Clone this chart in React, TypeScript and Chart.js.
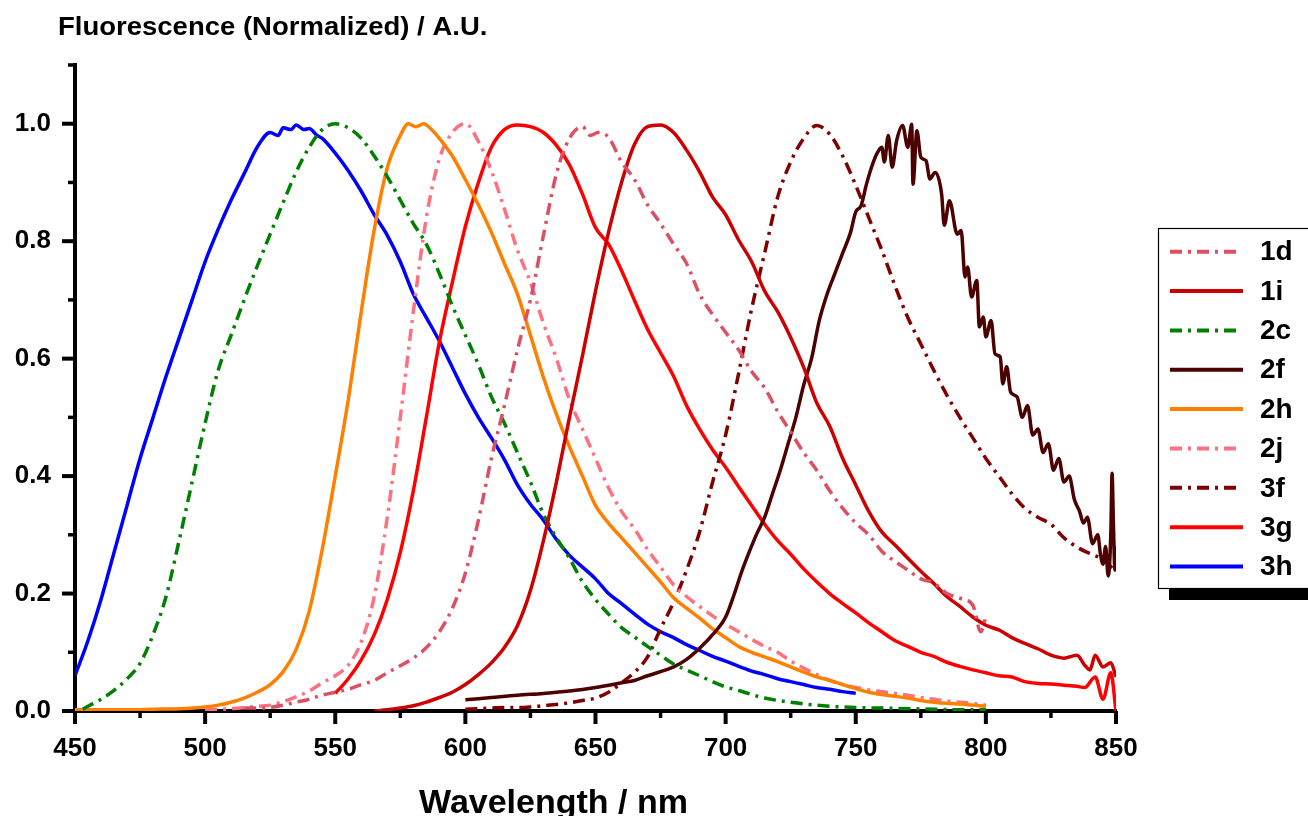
import { useEffect, useRef } from 'react';
import { Chart, registerables } from 'chart.js';

Chart.register(...registerables);

// ---------- axis ticks ----------
const xMajorTicks = [450, 500, 550, 600, 650, 700, 750, 800, 850];
const xMinorTicks = [475, 525, 575, 625, 675, 725, 775, 825];
const yMajorTicks = [0, 0.2, 0.4, 0.6, 0.8, 1.0];
const yMinorTicks = [0.1, 0.3, 0.5, 0.7, 0.9, 1.1];

// ---------- series (wavelength nm, normalized fluorescence) ----------
const s1d: [number, number][] = [
  [515, 0.005], [520, 0.005], [525, 0.006], [530, 0.01], [535, 0.015], [540, 0.02], [545, 0.027],
  [550, 0.032], [555, 0.037], [560, 0.045], [565, 0.052], [570, 0.065], [575, 0.077], [580, 0.09],
  [585, 0.108], [590, 0.135], [595, 0.175], [600, 0.235], [605, 0.325], [610, 0.43], [615, 0.52],
  [620, 0.615], [625, 0.7], [630, 0.81], [635, 0.915], [640, 0.975], [645, 0.995], [648, 0.98],
  [651, 0.985], [655, 0.977], [660, 0.935], [665, 0.905], [670, 0.862], [675, 0.83], [680, 0.795],
  [685, 0.762], [690, 0.71], [695, 0.675], [700, 0.645], [705, 0.615], [710, 0.578], [715, 0.55],
  [720, 0.51], [725, 0.475], [730, 0.44], [735, 0.41], [740, 0.375], [745, 0.345], [750, 0.32],
  [755, 0.3], [760, 0.272], [765, 0.255], [770, 0.24], [775, 0.225], [780, 0.218], [785, 0.2],
  [790, 0.192], [795, 0.18], [798, 0.135], [800, 0.16],
];
const s1i: [number, number][] = [
  [565, 0.0], [570, 0.002], [575, 0.005], [580, 0.009], [585, 0.015], [590, 0.023], [595, 0.032],
  [600, 0.045], [605, 0.062], [610, 0.082], [615, 0.108], [620, 0.145], [625, 0.205], [630, 0.29],
  [635, 0.39], [640, 0.5], [645, 0.605], [650, 0.715], [655, 0.815], [660, 0.9], [665, 0.965],
  [670, 0.995], [675, 0.998], [680, 0.985], [685, 0.955], [690, 0.918], [695, 0.875], [700, 0.845],
  [705, 0.802], [710, 0.765], [715, 0.715], [720, 0.68], [725, 0.636], [730, 0.585], [735, 0.525],
  [740, 0.485], [745, 0.43], [750, 0.385], [755, 0.34], [760, 0.305], [765, 0.283], [770, 0.26],
  [775, 0.238], [780, 0.217], [785, 0.195], [790, 0.178], [795, 0.16], [800, 0.146], [805, 0.138],
  [810, 0.125], [815, 0.115], [820, 0.106], [825, 0.095], [830, 0.09], [835, 0.095], [838, 0.078],
  [840, 0.07], [842, 0.095], [845, 0.075], [848, 0.082], [850, 0.058],
];
const s2c: [number, number][] = [
  [453, 0.003], [455, 0.008], [460, 0.02], [465, 0.035], [470, 0.055], [475, 0.081], [480, 0.13],
  [485, 0.195], [490, 0.29], [495, 0.39], [500, 0.49], [505, 0.58], [510, 0.64], [515, 0.7],
  [520, 0.757], [525, 0.812], [530, 0.866], [535, 0.918], [540, 0.96], [545, 0.99], [550, 1.0],
  [555, 0.993], [560, 0.975], [565, 0.945], [570, 0.91], [575, 0.87], [580, 0.83], [585, 0.795],
  [590, 0.745], [595, 0.69], [600, 0.64], [605, 0.59], [610, 0.535], [615, 0.49], [620, 0.44],
  [625, 0.39], [630, 0.335], [635, 0.295], [640, 0.26], [645, 0.22], [650, 0.19], [655, 0.165],
  [660, 0.142], [665, 0.126], [670, 0.11], [675, 0.095], [680, 0.08], [685, 0.07], [690, 0.06],
  [695, 0.05], [700, 0.041], [705, 0.035], [710, 0.028], [715, 0.022], [720, 0.018], [725, 0.015],
  [730, 0.012], [740, 0.008], [750, 0.006], [760, 0.005], [770, 0.004], [780, 0.003], [790, 0.002],
  [800, 0.002],
];
const s2f: [number, number][] = [
  [600, 0.019], [610, 0.023], [620, 0.027], [630, 0.03], [640, 0.034], [650, 0.04], [660, 0.048],
  [665, 0.052], [670, 0.06], [675, 0.067], [680, 0.075], [685, 0.088], [690, 0.107], [695, 0.13],
  [700, 0.16], [703, 0.195], [706, 0.235], [709, 0.27], [712, 0.302], [715, 0.33], [718, 0.37],
  [721, 0.41], [724, 0.455], [727, 0.5], [730, 0.555], [733, 0.6], [736, 0.665], [739, 0.71],
  [742, 0.745], [745, 0.78], [748, 0.815], [750, 0.85], [752, 0.86], [754, 0.895], [756, 0.925],
  [758, 0.948], [760, 0.96], [761, 0.935], [762.5, 0.98], [764, 0.926], [765.7, 0.971],
  [768, 0.997], [770, 0.96], [771.5, 0.999], [772, 0.897], [773.5, 0.988], [775, 0.943],
  [777, 0.937], [778.5, 0.906], [780.5, 0.917], [783, 0.88], [784, 0.827], [786, 0.869],
  [789, 0.812], [790.5, 0.818], [792, 0.739], [793, 0.756], [794.5, 0.705], [796.5, 0.733],
  [797.5, 0.654], [799, 0.671], [800, 0.637], [802, 0.665], [803.5, 0.608], [805.5, 0.603],
  [806.5, 0.557], [808, 0.586], [809.5, 0.543], [812, 0.535], [814, 0.5], [816, 0.52], [818, 0.47],
  [820, 0.48], [822, 0.44], [824, 0.455], [826, 0.41], [828, 0.43], [830, 0.39], [832, 0.4],
  [834, 0.36], [836, 0.34], [837.5, 0.32], [839, 0.33], [841, 0.285], [843, 0.3], [844, 0.268],
  [845, 0.25], [846, 0.28], [847, 0.23], [848, 0.3], [848.5, 0.405], [849, 0.32], [849.6, 0.24],
  [850, 0.28],
];
const s2h: [number, number][] = [
  [450, 0.002], [460, 0.002], [470, 0.002], [480, 0.003], [490, 0.004], [500, 0.007], [505, 0.01],
  [510, 0.015], [515, 0.022], [520, 0.032], [525, 0.045], [530, 0.067], [535, 0.105], [540, 0.17],
  [545, 0.275], [550, 0.4], [555, 0.53], [560, 0.68], [565, 0.82], [570, 0.925], [575, 0.98],
  [578, 1.0], [581, 0.995], [584, 1.0], [587, 0.99], [590, 0.975], [595, 0.945], [600, 0.905],
  [605, 0.862], [610, 0.815], [615, 0.762], [620, 0.71], [625, 0.64], [630, 0.568], [635, 0.505],
  [640, 0.45], [645, 0.4], [650, 0.35], [655, 0.32], [660, 0.295], [665, 0.27], [670, 0.245],
  [675, 0.22], [680, 0.193], [685, 0.175], [690, 0.158], [695, 0.14], [700, 0.125], [705, 0.11],
  [710, 0.1], [715, 0.092], [720, 0.084], [725, 0.075], [730, 0.066], [735, 0.058], [740, 0.052],
  [745, 0.045], [750, 0.038], [755, 0.032], [760, 0.028], [765, 0.025], [770, 0.022], [775, 0.018],
  [780, 0.015], [785, 0.013], [790, 0.012], [795, 0.01], [800, 0.008],
];
const s2j: [number, number][] = [
  [500, 0.002], [505, 0.003], [510, 0.004], [515, 0.006], [520, 0.008], [525, 0.01], [530, 0.016],
  [535, 0.024], [540, 0.034], [545, 0.048], [550, 0.06], [555, 0.078], [560, 0.118], [565, 0.195],
  [570, 0.33], [575, 0.5], [580, 0.68], [585, 0.84], [590, 0.94], [595, 0.985], [600, 1.0],
  [605, 0.97], [610, 0.92], [615, 0.855], [620, 0.785], [625, 0.73], [630, 0.66], [635, 0.6],
  [640, 0.53], [645, 0.48], [650, 0.43], [655, 0.38], [660, 0.34], [665, 0.31], [670, 0.275],
  [675, 0.245], [680, 0.215], [685, 0.195], [690, 0.178], [695, 0.162], [700, 0.148], [705, 0.135],
  [710, 0.122], [715, 0.11], [720, 0.1], [725, 0.085], [730, 0.073], [735, 0.062], [740, 0.052],
  [745, 0.045], [750, 0.04], [755, 0.036], [760, 0.033], [765, 0.03], [770, 0.027], [775, 0.023],
  [780, 0.02], [785, 0.017], [790, 0.015], [795, 0.013], [800, 0.01],
];
const s3f: [number, number][] = [
  [600, 0.003], [605, 0.004], [610, 0.005], [615, 0.006], [620, 0.006], [625, 0.007], [630, 0.009],
  [635, 0.011], [640, 0.014], [645, 0.018], [650, 0.022], [655, 0.032], [660, 0.048], [665, 0.066],
  [670, 0.092], [675, 0.14], [680, 0.185], [685, 0.24], [690, 0.305], [695, 0.39], [700, 0.47],
  [705, 0.575], [710, 0.685], [715, 0.78], [720, 0.875], [725, 0.935], [730, 0.975], [735, 0.997],
  [740, 0.982], [745, 0.945], [750, 0.895], [755, 0.84], [760, 0.785], [765, 0.725], [770, 0.67],
  [775, 0.625], [780, 0.58], [785, 0.538], [790, 0.5], [795, 0.465], [800, 0.43], [805, 0.4],
  [810, 0.37], [815, 0.345], [820, 0.33], [825, 0.318], [830, 0.295], [835, 0.279], [840, 0.268],
  [845, 0.258], [850, 0.237],
];
const s3g: [number, number][] = [
  [550, 0.03], [555, 0.055], [560, 0.087], [565, 0.13], [570, 0.19], [575, 0.27], [580, 0.375],
  [585, 0.5], [590, 0.628], [595, 0.73], [600, 0.825], [605, 0.9], [610, 0.96], [615, 0.99],
  [620, 0.998], [625, 0.995], [630, 0.985], [635, 0.963], [640, 0.93], [645, 0.88], [650, 0.823],
  [655, 0.795], [660, 0.75], [665, 0.699], [670, 0.65], [675, 0.61], [680, 0.57], [685, 0.52],
  [690, 0.48], [695, 0.445], [700, 0.415], [705, 0.382], [710, 0.35], [715, 0.318], [720, 0.29],
  [725, 0.267], [730, 0.242], [735, 0.22], [740, 0.2], [745, 0.183], [750, 0.167], [755, 0.15],
  [760, 0.135], [765, 0.12], [770, 0.11], [775, 0.1], [780, 0.093], [785, 0.083], [790, 0.076],
  [795, 0.07], [800, 0.065], [805, 0.06], [810, 0.058], [815, 0.05], [820, 0.047], [825, 0.046],
  [830, 0.044], [835, 0.042], [838, 0.04], [842, 0.058], [845, 0.02], [848, 0.065], [850, 0.0],
];
const s3h: [number, number][] = [
  [450, 0.06], [455, 0.12], [460, 0.19], [465, 0.27], [470, 0.35], [475, 0.43], [480, 0.5],
  [485, 0.57], [490, 0.635], [495, 0.7], [500, 0.765], [505, 0.82], [510, 0.87], [515, 0.915],
  [520, 0.96], [525, 0.985], [528, 0.98], [530, 0.993], [533, 0.99], [535, 0.998], [538, 0.99],
  [540, 0.992], [543, 0.98], [545, 0.975], [550, 0.95], [555, 0.92], [560, 0.885], [565, 0.845],
  [570, 0.81], [575, 0.765], [580, 0.71], [585, 0.67], [590, 0.63], [595, 0.585], [600, 0.54],
  [605, 0.5], [610, 0.465], [615, 0.428], [620, 0.385], [625, 0.352], [630, 0.325], [635, 0.292],
  [640, 0.265], [645, 0.245], [650, 0.225], [655, 0.2], [660, 0.183], [665, 0.165], [670, 0.148],
  [675, 0.135], [680, 0.125], [685, 0.113], [690, 0.103], [695, 0.093], [700, 0.085], [705, 0.076],
  [710, 0.068], [715, 0.062], [720, 0.055], [725, 0.05], [730, 0.045], [735, 0.04], [740, 0.037],
  [745, 0.033], [750, 0.03],
];

const seriesLabels = ['1d', '1i', '2c', '2f', '2h', '2j', '3f', '3g', '3h'];
const seriesData = [s1d, s1i, s2c, s2f, s2h, s2j, s3f, s3g, s3h];
const seriesColors = ['#DC5064', '#CC0000', '#008000', '#4D0000', '#FF8000', '#FF7080', '#800000', '#FF0000', '#0000FF'];
const seriesDashed = [true, false, true, false, false, true, true, false, false];
const dashDot = [12, 6, 3, 6];

const FONT = '"Liberation Sans", Arial, Helvetica, sans-serif';

const overlayPlugin = {
  id: 'overlay',
  afterDraw(chart: any) {
    const { ctx, chartArea } = chart;
    const xs = chart.scales.x;
    const ys = chart.scales.y;
    const bottom = chartArea.bottom;
    const left = chartArea.left;
    ctx.save();
    ctx.strokeStyle = '#000';
    ctx.lineCap = 'butt';
    // x ticks
    ctx.lineWidth = 4;
    xMajorTicks.forEach((v) => {
      const px = xs.getPixelForValue(v);
      ctx.beginPath(); ctx.moveTo(px, bottom); ctx.lineTo(px, bottom + 13); ctx.stroke();
    });
    ctx.lineWidth = 3.5;
    xMinorTicks.forEach((v) => {
      const px = xs.getPixelForValue(v);
      ctx.beginPath(); ctx.moveTo(px, bottom); ctx.lineTo(px, bottom + 7); ctx.stroke();
    });
    // y ticks
    ctx.lineWidth = 4;
    yMajorTicks.forEach((v) => {
      const py = ys.getPixelForValue(v);
      ctx.beginPath(); ctx.moveTo(left, py); ctx.lineTo(left - 13, py); ctx.stroke();
    });
    ctx.lineWidth = 3.5;
    yMinorTicks.forEach((v) => {
      const py = ys.getPixelForValue(v);
      ctx.beginPath(); ctx.moveTo(left, py); ctx.lineTo(left - 7, py); ctx.stroke();
    });

    // titles
    ctx.fillStyle = '#000';
    ctx.textBaseline = 'alphabetic';
    ctx.textAlign = 'left';
    ctx.save();
    ctx.translate(58, 35);
    ctx.scale(1.1, 1);
    ctx.font = `bold 25px ${FONT}`;
    ctx.fillText('Fluorescence (Normalized) / A.U.', 0, 0);
    ctx.restore();

    ctx.textAlign = 'center';
    ctx.font = `bold 34px ${FONT}`;
    ctx.fillText('Wavelength / nm', (chartArea.left + chartArea.right) / 2 - 42, 813);

    // legend
    const bx = 1158, by = 228, bh = 360;
    ctx.fillStyle = '#000';
    ctx.fillRect(1169, by + bh, 200, 12);
    ctx.fillStyle = '#fff';
    ctx.fillRect(bx, by, 200, bh);
    ctx.lineWidth = 1.2;
    ctx.strokeStyle = '#000';
    ctx.strokeRect(bx + 0.5, by + 0.5, 200, bh);
    ctx.font = `bold 28px ${FONT}`;
    ctx.textAlign = 'left';
    ctx.textBaseline = 'middle';
    chart.data.datasets.forEach((ds: any, i: number) => {
      const ly = 251.7 + i * 39.35;
      ctx.strokeStyle = ds.borderColor;
      ctx.lineWidth = 4;
      ctx.setLineDash(ds.borderDash || []);
      ctx.beginPath();
      ctx.moveTo(1170, ly);
      ctx.lineTo(ds.borderDash && ds.borderDash.length ? 1240 : 1243, ly);
      ctx.stroke();
      ctx.setLineDash([]);
      ctx.fillStyle = '#000';
      ctx.fillText(ds.label, 1260, ly + 1);
    });
    ctx.restore();
  },
};

export default function App() {
  const canvasRef = useRef<HTMLCanvasElement | null>(null);

  useEffect(() => {
    if (!canvasRef.current) return;
    const datasets = seriesLabels.map((label, i) => ({
      label,
      data: seriesData[i].map(([x, y]) => ({ x, y })),
      borderColor: seriesColors[i],
      backgroundColor: seriesColors[i],
      borderWidth: 3.5,
      borderDash: seriesDashed[i] ? dashDot : [],
      pointRadius: 0,
      fill: false,
      cubicInterpolationMode: 'monotone' as const,
    }));
    const chart = new Chart(canvasRef.current, {
      type: 'line',
      data: { datasets },
      options: {
        responsive: false,
        animation: false,
        events: [],
        layout: { padding: { top: 65, right: 192, left: 0, bottom: 0 } },
        plugins: {
          legend: { display: false },
          title: { display: false },
          tooltip: { enabled: false },
        },
        scales: {
          x: {
            type: 'linear',
            min: 450,
            max: 850,
            afterFit: (s: any) => { s.height = 105; },
            grid: { color: 'transparent', drawOnChartArea: false, tickLength: 10 },
            border: { display: true, color: '#000', width: 4 },
            ticks: {
              stepSize: 50,
              autoSkip: false,
              maxRotation: 0,
              padding: 12,
              color: '#000',
              font: { family: FONT, size: 26, weight: 'bold' },
            },
          },
          y: {
            type: 'linear',
            min: 0,
            max: 1.1,
            afterFit: (s: any) => { s.width = 75; },
            grid: { color: 'transparent', drawOnChartArea: false, tickLength: 10 },
            border: { display: true, color: '#000', width: 4 },
            ticks: {
              stepSize: 0.2,
              includeBounds: false,
              autoSkip: false,
              padding: 14,
              color: '#000',
              font: { family: FONT, size: 26, weight: 'bold' },
              callback: (v: any) => (Math.abs(v * 5 - Math.round(v * 5)) < 1e-6 ? Number(v).toFixed(1) : ''),
            },
          },
        },
      },
      plugins: [overlayPlugin],
    });
    return () => chart.destroy();
  }, []);

  return (
    <div style={{ position: 'fixed', left: 0, top: 0, width: 1308, height: 816, background: '#fff' }}>
      <canvas ref={canvasRef} width={1308} height={816} style={{ display: 'block' }} />
    </div>
  );
}
